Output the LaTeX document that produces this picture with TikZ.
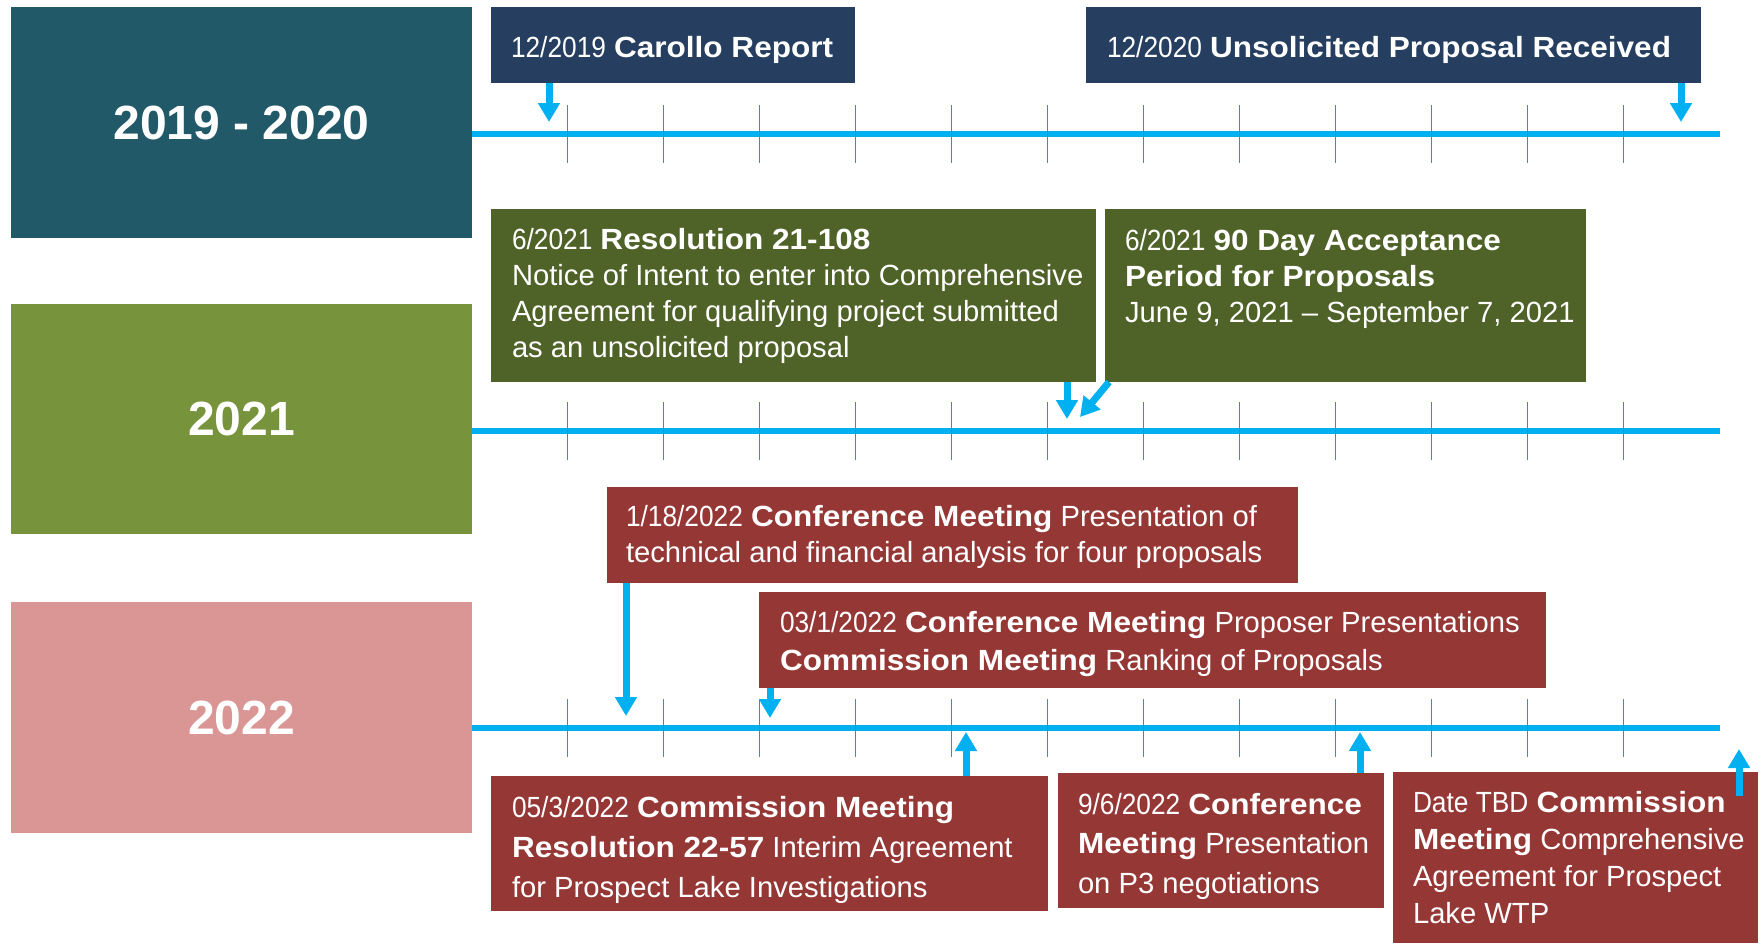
\documentclass[tikz,border=0pt]{standalone}
\usepackage{fontspec}
\setmainfont{Liberation Sans}
\newfontfamily\datefont[FakeStretch=0.9]{Liberation Sans}
\newfontfamily\titlefont[FakeStretch=1.08]{Liberation Sans}
\usetikzlibrary{arrows.meta}

\definecolor{yrteal}{HTML}{215968}
\definecolor{yrolive}{HTML}{77933C}
\definecolor{yrpink}{HTML}{D99694}
\definecolor{evnavy}{HTML}{263F60}
\definecolor{evolive}{HTML}{4F6228}
\definecolor{evred}{HTML}{953735}
\definecolor{linecyan}{HTML}{00B0F0}
\definecolor{tickblue}{HTML}{4F81BD}

% date prefix and bold event title
\newcommand{\dt}[1]{{\datefont #1}}
\newcommand{\hl}[1]{{\titlefont\bfseries #1}}

\begin{document}
\begin{tikzpicture}[x=1pt,y=-1pt,
  panel/.style={inner sep=0pt, outer sep=0pt, anchor=north west},
  yearbox/.style={panel, text=white, font=\fontsize{48}{56}\selectfont\bfseries},
  evbox/.style={panel},
  evtext/.style={text=white, align=left, inner sep=0pt, outer sep=0pt,
                 anchor=west, font=\fontsize{29.2}{36}\selectfont},
  tline/.style={draw=linecyan, line width=5.5pt},
  tickmark/.style={draw=tickblue, line width=1.3pt},
  evarrow/.style={draw=linecyan, line width=7pt,
                  -{Triangle[width=21pt,length=19pt]}}
]
\useasboundingbox (0,0) rectangle (1764,943);

% year panels
\node[yearbox, fill=yrteal,  minimum width=461pt, minimum height=231pt] (y1) at (11,7)   {2019 - 2020};
\node[yearbox, fill=yrolive, minimum width=461pt, minimum height=230pt] (y2) at (11,304) {2021};
\node[yearbox, fill=yrpink,  minimum width=461pt, minimum height=231pt] (y3) at (11,602) {2022};

% time axes
\coordinate (l1) at (1720,134);
\coordinate (l2) at (1720,431);
\coordinate (l3) at (1720,728);
\draw[tline] (y1.east |- l1) -- (l1);
\draw[tline] (y2.east |- l2) -- (l2);
\draw[tline] (y3.east |- l3) -- (l3);
\foreach \yy in {134,431,728}{
  \foreach \i in {0,...,11}{
    \draw[tickmark] (567.5+96*\i,\yy-29) -- (567.5+96*\i,\yy+29);
  }
}

% 2019 - 2020 events
\node[evbox, fill=evnavy, minimum width=364pt, minimum height=76pt] (e1) at (491,7) {};
\node[evtext] (e1t) at ([xshift=20pt,yshift=-4.5pt]e1.west) {\dt{12/2019} \hl{Carollo Report}};
\node[evbox, fill=evnavy, minimum width=615pt, minimum height=76pt] (e2) at (1086,7) {};
\node[evtext] (e2t) at ([xshift=21pt,yshift=-4.5pt]e2.west) {\dt{12/2020} \hl{Unsolicited Proposal Received}};

% 2021 events
\node[evbox, fill=evolive, minimum width=605pt, minimum height=173pt] (e3) at (491,209) {};
\node[evtext] (e3t) at ([xshift=21pt]e3.west) {\dt{6/2021} \hl{Resolution 21-108}\\
  Notice of Intent to enter into Comprehensive\\
  Agreement for qualifying project submitted\\
  as an unsolicited proposal};
\node[evbox, fill=evolive, minimum width=481pt, minimum height=173pt] (e4) at (1105,209) {};
\node[evtext, anchor=north west] (e4t) at (1125,229.5) {\dt{6/2021} \hl{90 Day Acceptance}\\
  \hl{Period for Proposals}\\
  June 9, 2021 – September 7, 2021};

% 2022 events
\node[evbox, fill=evred, minimum width=691pt, minimum height=96pt] (e5) at (607,487) {};
\node[evtext] (e5t) at ([xshift=19pt,yshift=-2.3pt]e5.west) {\dt{1/18/2022} \hl{Conference Meeting} Presentation of\\
  technical and financial analysis for four proposals};
\node[evbox, fill=evred, minimum width=787pt, minimum height=96pt] (e6) at (759,592) {};
\node[evtext, font=\fontsize{29.2}{38}\selectfont] (e6t) at ([xshift=21pt,yshift=-4.5pt]e6.west) {\dt{03/1/2022} \hl{Conference Meeting} Proposer Presentations\\
  \hl{Commission Meeting} Ranking of Proposals};
\node[evbox, fill=evred, minimum width=557pt, minimum height=135pt] (e7) at (491,776) {};
\node[evtext, font=\fontsize{29.2}{40}\selectfont] (e7t) at ([xshift=21pt,yshift=-6pt]e7.west) {\dt{05/3/2022} \hl{Commission Meeting}\\
  \hl{Resolution 22-57} Interim Agreement\\
  for Prospect Lake Investigations};
\node[evbox, fill=evred, minimum width=326pt, minimum height=135pt] (e8) at (1058,773) {};
\node[evtext, font=\fontsize{29.2}{39.5}\selectfont] (e8t) at ([xshift=20pt,yshift=-5.5pt]e8.west) {\dt{9/6/2022} \hl{Conference}\\
  \hl{Meeting} Presentation\\
  on P3 negotiations};
\node[evbox, fill=evred, minimum width=365pt, minimum height=171pt] (e9) at (1393,772) {};
\node[evtext, font=\fontsize{29.2}{37}\selectfont] (e9t) at ([xshift=20pt]e9.west) {\dt{Date TBD} \hl{Commission}\\
  \hl{Meeting} Comprehensive\\
  Agreement for Prospect\\
  Lake WTP};

% arrow tips on the axes
\coordinate (t1) at (549,122);
\coordinate (t2) at (1681,122);
\coordinate (t3) at (1067,419);
\coordinate (t4) at (1080,417);
\coordinate (t5) at (626,716);
\coordinate (t6) at (770,718);
\coordinate (t7) at (966,732);
\coordinate (t8) at (1360,732);
\coordinate (t9) at (1739,749);

\draw[evarrow] (e1.south -| t1) -- (t1);
\draw[evarrow] (e2.south -| t2) -- (t2);
\draw[evarrow] (e3.south -| t3) -- (t3);
\draw[evarrow] ([xshift=4pt]e4.south west) -- (t4);
\draw[evarrow] (e5.south -| t5) -- (t5);
\draw[evarrow] (e6.south -| t6) -- (t6);
\draw[evarrow] (e7.north -| t7) -- (t7);
\draw[evarrow] (e8.north -| t8) -- (t8);
\draw[evarrow] ([yshift=-24pt]e9.north -| t9) -- (t9);
\end{tikzpicture}
\end{document}
